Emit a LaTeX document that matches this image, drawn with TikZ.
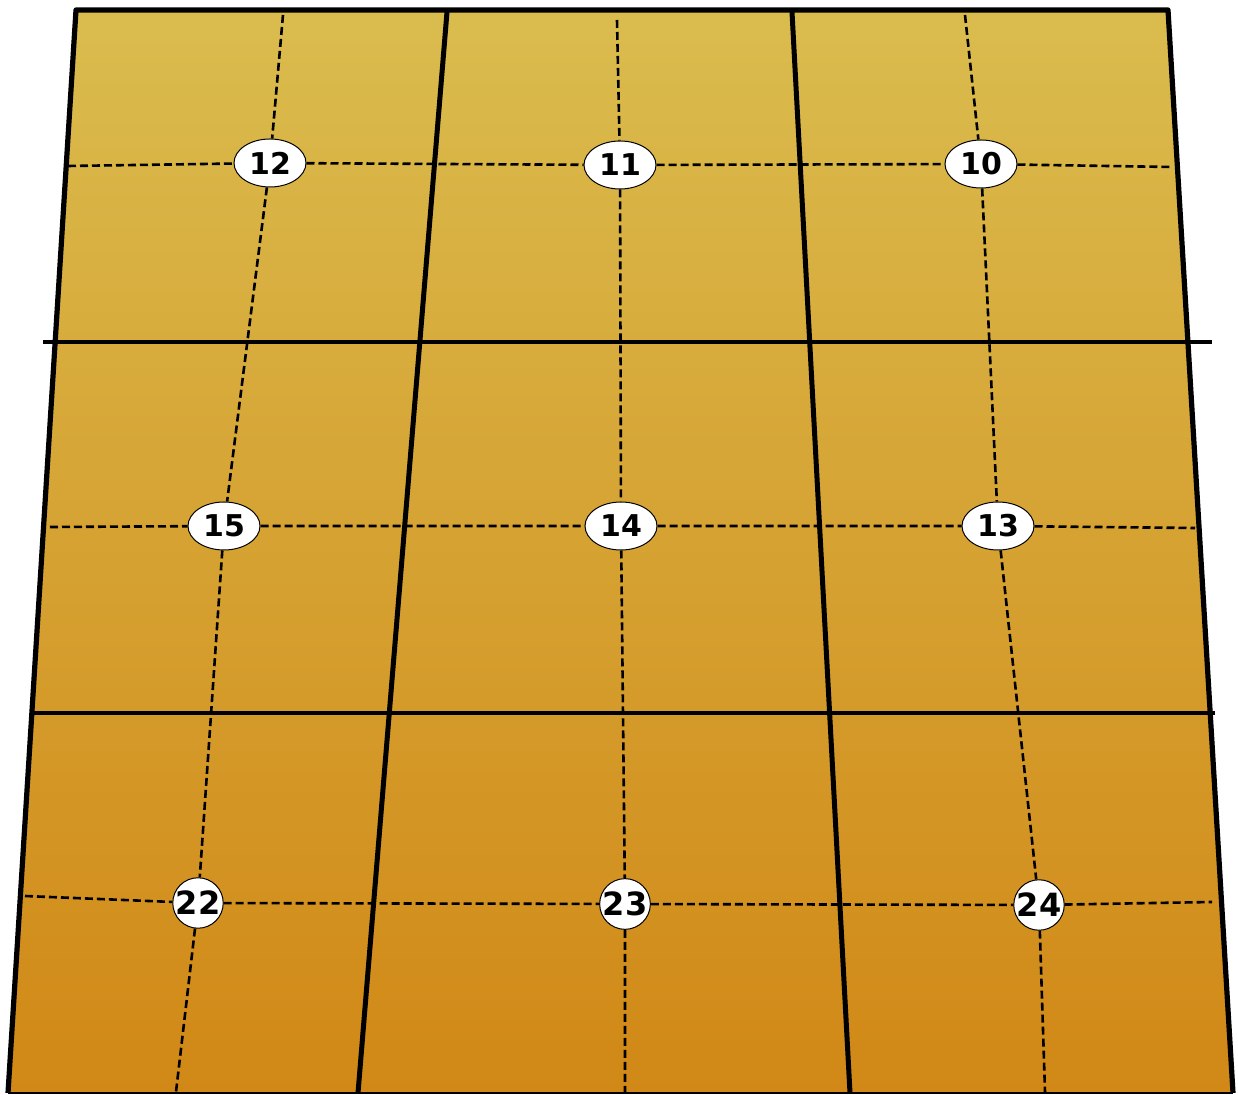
\documentclass[tikz,border=0pt]{standalone}
\usepackage{fontspec}
\setsansfont{DejaVu Sans}
\usetikzlibrary{shapes.geometric}
\definecolor{fieldtop}{RGB}{218,188,78}
\definecolor{fieldmid}{RGB}{214,163,52}
\definecolor{fieldbot}{RGB}{209,136,22}

\begin{document}
\begin{tikzpicture}[
  x=0.5pt, y=-0.5pt,
  border/.style={line width=2.6pt, line join=round},
  divider/.style={line width=2.5pt},
  rowline/.style={line width=1.8pt},
  dashline/.style={line width=1.3pt, dash pattern=on 4pt off 2pt},
  plot/.style={ellipse, draw, fill=white, line width=0.5pt, inner sep=0pt,
               minimum width=36pt, minimum height=24pt,
               font=\sffamily\bfseries\fontsize{15}{15}\selectfont},
  lowplot/.style={plot, circle, minimum width=25pt, minimum height=25pt,
                  font=\sffamily\bfseries\fontsize{16}{16}\selectfont},
]
\useasboundingbox (0,0) rectangle (1238,1095);
\fill[white] (0,0) rectangle (1238,1095);

% field
\shade[top color=fieldtop, middle color=fieldmid, bottom color=fieldbot]
  (76,10) -- (1168,10) -- (1233,1093) -- (8,1093) -- cycle;

% dashed line ends
\coordinate (r1w) at (68,166);  \coordinate (r1e) at (1172,167);
\coordinate (r2w) at (50,527);  \coordinate (r2e) at (1195,528);
\coordinate (r3w) at (25,896);  \coordinate (r3e) at (1212,902);
\coordinate (c1n) at (283,15);  \coordinate (c1s) at (176,1092);
\coordinate (c2n) at (617,20);  \coordinate (c2s) at (625,1092);
\coordinate (c3n) at (965,15);  \coordinate (c3s) at (1045,1092);

% plots
\node[plot] (p12) at (270,163) {12};
\node[plot] (p11) at (620,165) {11};
\node[plot] (p10) at (981,164) {10};
\node[plot] (p15) at (224,526) {15};
\node[plot] (p14) at (621,526) {14};
\node[plot] (p13) at (998,526) {13};
\node[lowplot] (p22) at (198,903) {22};
\node[lowplot] (p23) at (625,904) {23};
\node[lowplot] (p24) at (1039,905) {24};

% dashed center lines
\draw[dashline] (r1w) -- (p12) -- (p11) -- (p10) -- (r1e);
\draw[dashline] (r2w) -- (p15) -- (p14) -- (p13) -- (r2e);
\draw[dashline] (r3w) -- (p22) -- (p23) -- (p24) -- (r3e);
\draw[dashline] (c1n) -- (p12) -- (p15) -- (p22) -- (c1s);
\draw[dashline] (c2n) -- (p11) -- (p14) -- (p23) -- (c2s);
\draw[dashline] (c3n) -- (p10) -- (p13) -- (p24) -- (c3s);

% block borders
\draw[border] (8,1093) -- (76,10) -- (1168,10) -- (1233,1093);
\draw[line width=0.8pt] (8,1093) -- (1233,1093);
\draw[divider] (447,12) -- (358,1093);
\draw[divider] (792,12) -- (850,1093);
\draw[rowline] (43,342) -- (1212,342);
\draw[rowline] (30,713) -- (1215,713);
\end{tikzpicture}
\end{document}
